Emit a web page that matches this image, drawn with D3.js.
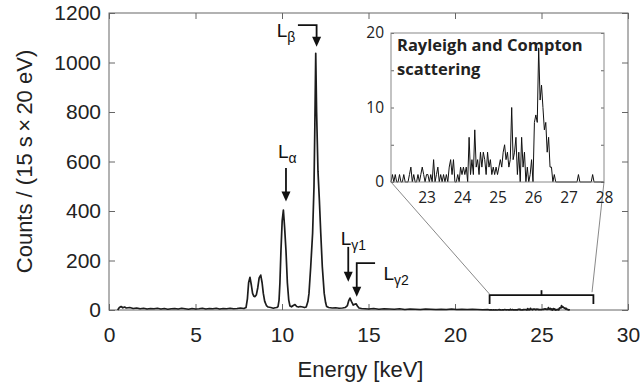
<!DOCTYPE html>
<html><head><meta charset="utf-8">
<script src="https://cdn.jsdelivr.net/npm/d3@7"></script>
<style>body{margin:0;background:#fff}svg{display:block}</style>
</head><body><svg id="c" width="641" height="385"></svg>
<script>
// ---- data: [energy keV, counts] ----
const lowBackground = [[0.5,0],[0.6,10],[0.7,14],[0.8,9],[0.9,12],[1.0,8],[1.2,10],[1.4,6],[1.6,8],[1.8,5],[2.0,7],[2.2,4],[2.4,6],[2.6,5],[2.8,7],[3.0,4],[3.2,6],[3.4,3],[3.6,5],[3.8,6],[4.0,4],[4.2,7],[4.4,5],[4.6,3],[4.8,6],[5.0,4],[5.2,5],[5.4,7],[5.6,4],[5.8,6],[6.0,5],[6.2,7],[6.4,4],[6.6,6],[6.8,5],[7.0,7],[7.2,5],[7.4,6],[7.6,8]];
const doubletPeaks = [[7.8,6],[7.92,10],[8.0,45],[8.07,110],[8.15,132],[8.23,100],[8.3,67],[8.37,56],[8.44,54],[8.52,62],[8.6,90],[8.68,130],[8.77,141],[8.85,110],[8.92,67],[9.0,35],[9.1,18],[9.2,12],[9.35,10],[9.5,7],[9.6,9]];
const lAlphaPeak = [[9.7,10],[9.77,14],[9.83,40],[9.88,110],[9.94,240],[10.01,360],[10.08,404],[10.15,335],[10.23,240],[10.31,110],[10.39,40],[10.46,16],[10.55,13],[10.65,18],[10.75,22],[10.85,14],[10.95,12],[11.05,14],[11.2,12],[11.3,10]];
const lBetaPeak = [[11.4,12],[11.5,35],[11.56,67],[11.66,175],[11.77,311],[11.85,500],[11.9,750],[11.95,1037],[12.0,800],[12.08,560],[12.16,444],[12.24,311],[12.33,175],[12.44,67],[12.52,30],[12.58,14],[12.7,10],[12.9,8],[13.1,9],[13.3,7],[13.5,8]];
const lGammaPeaks = [[13.65,10],[13.78,18],[13.86,38],[13.93,48],[14.02,34],[14.12,20],[14.2,23],[14.28,25],[14.36,16],[14.45,8],[14.6,6],[14.8,5]];
const highBackground = [[15.0,4],[15.3,6],[15.6,3],[15.9,5],[16.2,4],[16.5,3],[16.8,5],[17.1,2],[17.4,4],[17.7,3],[18.0,2],[18.3,4],[18.6,3],[18.9,2],[19.2,3],[19.5,2],[19.8,4],[20.1,2],[20.4,3],[20.7,2],[21.0,3],[21.3,2],[21.6,1],[21.9,2]];
const scatterRegion = [[22.00,0],[22.04,1],[22.08,0],[22.12,1],[22.16,0],[22.20,0],[22.24,1],[22.28,0],[22.32,0],[22.36,1],[22.40,0],[22.44,0],[22.48,0],[22.52,1],[22.56,2],[22.60,0],[22.64,1],[22.68,0],[22.72,0],[22.76,1],[22.80,0],[22.84,1],[22.88,2],[22.92,1],[22.96,0],[23.00,1],[23.04,1],[23.08,0],[23.12,1],[23.16,0],[23.20,3],[23.24,0],[23.28,1],[23.32,2],[23.36,0],[23.40,1],[23.44,0],[23.48,1],[23.52,0],[23.56,1],[23.60,0],[23.64,2],[23.68,3],[23.72,1],[23.76,3],[23.80,0],[23.84,0],[23.88,1],[23.92,0],[23.96,2],[24.00,1],[24.04,2],[24.08,1],[24.12,2],[24.16,0],[24.20,6],[24.24,1],[24.28,3],[24.32,1],[24.36,7],[24.40,2],[24.44,3],[24.48,1],[24.52,4],[24.56,2],[24.60,4],[24.64,3],[24.68,1],[24.72,4],[24.76,2],[24.80,3],[24.84,1],[24.88,2],[24.92,1],[24.96,2],[25.00,1],[25.04,2],[25.08,3],[25.12,2],[25.16,4],[25.20,5],[25.24,3],[25.28,4],[25.32,2],[25.36,3],[25.40,10],[25.44,3],[25.48,4],[25.52,6],[25.56,1],[25.60,4],[25.64,0],[25.68,6],[25.72,2],[25.76,4],[25.80,0],[25.84,2],[25.88,0],[25.92,1],[25.96,3],[26.00,0],[26.04,8],[26.08,9],[26.12,8],[26.16,18],[26.20,11],[26.24,13],[26.28,10],[26.32,7],[26.36,8],[26.40,4],[26.44,6],[26.48,2],[26.52,2],[26.56,0],[26.60,1],[26.64,0],[27.24,0],[27.28,1],[27.32,0],[27.64,0],[27.68,1],[27.72,0],[28.00,0]];

const mainXTicks = [0,5,10,15,20,25,30];
const mainYTicks = [0,200,400,600,800,1000,1200];
const insetXTicks = [23,24,25,26,27,28];
const insetYTicks = [0,5,10,15,20];
const insetYLabels = [0,10,20];

// ---- layout ----
const svg = d3.select("#c");
svg.append("rect").attr("width",641).attr("height",385).attr("fill","#fff");
const x = d3.scaleLinear([0,30],[109,628]);
const y = d3.scaleLinear([0,1200],[310,13]);
const MAINFONT = "'Liberation Sans', Arial, sans-serif";
const INFONT = "'Open Sans', sans-serif";
const axisCol = "#666", textCol = "#222";
const fmt = d3.format("d");

function styleAxis(g, fs, font){
  g.attr("font-family", null);
  g.select(".domain").remove();
  g.selectAll(".tick line").attr("stroke",axisCol);
  g.selectAll(".tick text").attr("fill",textCol).style("font-family",font).style("font-size",fs+"px");
}
// main axes
svg.append("g").attr("transform",`translate(0,${y(0)})`)
  .call(d3.axisBottom(x).tickValues(mainXTicks).tickSize(-6).tickPadding(17).tickFormat(fmt))
  .call(g=>styleAxis(g,21,MAINFONT));
svg.append("g").attr("transform",`translate(0,${y(1200)})`)
  .call(d3.axisTop(x).tickValues(mainXTicks).tickSize(-6).tickFormat(""))
  .call(g=>styleAxis(g,21,MAINFONT));
svg.append("g").attr("transform",`translate(${x(0)},0)`)
  .call(d3.axisLeft(y).tickValues(mainYTicks).tickSize(-6).tickPadding(8).tickFormat(fmt))
  .call(g=>styleAxis(g,21,MAINFONT));
svg.append("g").attr("transform",`translate(${x(30)},0)`)
  .call(d3.axisRight(y).tickValues(mainYTicks).tickSize(-6).tickFormat(""))
  .call(g=>styleAxis(g,21,MAINFONT));
svg.append("rect").attr("x",x(0)).attr("y",y(1200)).attr("width",x(30)-x(0)).attr("height",y(0)-y(1200))
  .attr("fill","none").attr("stroke",axisCol).attr("stroke-width",1);

// axis titles
svg.append("text").attr("x",(x(0)+x(30))/2-8).attr("y",377).attr("text-anchor","middle")
  .style("font-family",MAINFONT).style("font-size","22px").attr("fill",textCol).text("Energy [keV]");
svg.append("text").attr("transform",`translate(32,${(y(0)+y(1200))/2}) rotate(-90)`).attr("text-anchor","middle")
  .style("font-family",MAINFONT).style("font-size","22px").attr("fill",textCol).text("Counts / (15 s\u2009\u00d7\u200920 eV)");

// main spectrum
const mainSpectrum = [].concat(lowBackground, doubletPeaks, lAlphaPeak, lBetaPeak, lGammaPeaks, highBackground,
  scatterRegion.filter(d=>d[0]<=26.66));
svg.append("path").datum(mainSpectrum)
  .attr("d", d3.line().x(d=>x(d[0])).y(d=>y(d[1])))
  .attr("fill","none").attr("stroke","#1c1c1c").attr("stroke-width",1.7).attr("stroke-linejoin","round");

// arrows and labels
function arrow(pts){
  const p = pts.map(d=>[x(d[0]),y(d[1])]);
  const tip = p[p.length-1];
  const stem = p.slice(0,-1).concat([[tip[0],tip[1]-8]]);
  svg.append("path").attr("d",d3.line()(stem)).attr("fill","none").attr("stroke","#111").attr("stroke-width",1.8);
  svg.append("path").attr("d",`M${tip[0]-4.5},${tip[1]-10}L${tip[0]+4.5},${tip[1]-10}L${tip[0]},${tip[1]}Z`).attr("fill","#111");
}
function label(e,c,sub){
  const t = svg.append("text").attr("x",x(e)).attr("y",y(c)).style("font-family",MAINFONT).attr("fill","#111").style("font-size","19px");
  t.append("tspan").text("L");
  t.append("tspan").attr("dy",5).style("font-size","14px").text(sub);
}
arrow([[10.92,1151],[12.0,1151],[12.0,1064]]);
label(9.69,1103,"\u03b2");
arrow([[10.23,574],[10.23,438]]);
label(9.77,614,"\u03b1");
arrow([[13.83,255],[13.83,114]]);
label(13.39,263,"\u03b31");
arrow([[15.38,189],[14.32,189],[14.32,54]]);
label(15.86,121,"\u03b32");

// bracket
svg.append("path").attr("d", d3.line()([[x(22),y(24)],[x(22),y(60)],[x(28),y(60)],[x(28),y(24)]]))
  .attr("fill","none").attr("stroke","#111").attr("stroke-width",1.8);
svg.append("path").attr("d", d3.line()([[x(25),y(60)],[x(25),y(80)]]))
  .attr("fill","none").attr("stroke","#111").attr("stroke-width",1.8);

// inset
const xi = d3.scaleLinear([22,28],[391,604]);
const yi = d3.scaleLinear([0,20],[182,33]);
// connectors
svg.append("line").attr("x1",xi(22)).attr("y1",yi(0)).attr("x2",x(22)).attr("y2",y(64))
  .attr("stroke","#555").attr("stroke-width",0.7);
svg.append("line").attr("x1",xi(28)).attr("y1",yi(0)).attr("x2",x(27.92)).attr("y2",y(72))
  .attr("stroke","#555").attr("stroke-width",0.7);
svg.append("rect").attr("x",xi(22)).attr("y",yi(20)).attr("width",xi(28)-xi(22)).attr("height",yi(0)-yi(20)).attr("fill","#fff");
svg.append("g").attr("transform",`translate(${xi(22)},0)`)
  .call(d3.axisLeft(yi).tickValues(insetYTicks).tickSize(-3).tickPadding(7).tickFormat(d=>insetYLabels.includes(d)?fmt(d):""))
  .call(g=>styleAxis(g,15.5,INFONT));
svg.append("g").attr("transform",`translate(${xi(28)},0)`)
  .call(d3.axisRight(yi).tickValues(insetYTicks).tickSize(-3).tickFormat(""))
  .call(g=>styleAxis(g,15.5,INFONT));
svg.append("g").attr("transform",`translate(0,${yi(0)})`)
  .call(d3.axisBottom(xi).tickValues(insetXTicks).tickSize(0).tickPadding(10).tickFormat(fmt))
  .call(g=>styleAxis(g,15.5,INFONT));
svg.append("path").datum(scatterRegion)
  .attr("d", d3.line().x(d=>xi(d[0])).y(d=>yi(d[1])))
  .attr("fill","none").attr("stroke","#111").attr("stroke-width",1).attr("stroke-linejoin","round");
svg.append("rect").attr("x",xi(22)).attr("y",yi(20)).attr("width",xi(28)-xi(22)).attr("height",yi(0)-yi(20))
  .attr("fill","none").attr("stroke","#888").attr("stroke-width",1);
const title = svg.append("text").style("font-family",INFONT).style("font-size","16.5px").style("font-weight","bold").attr("fill","#222");
title.append("tspan").attr("x",397).attr("y",51).text("Rayleigh and Compton");
title.append("tspan").attr("x",397).attr("y",75).text("scattering");
</script></body></html>
